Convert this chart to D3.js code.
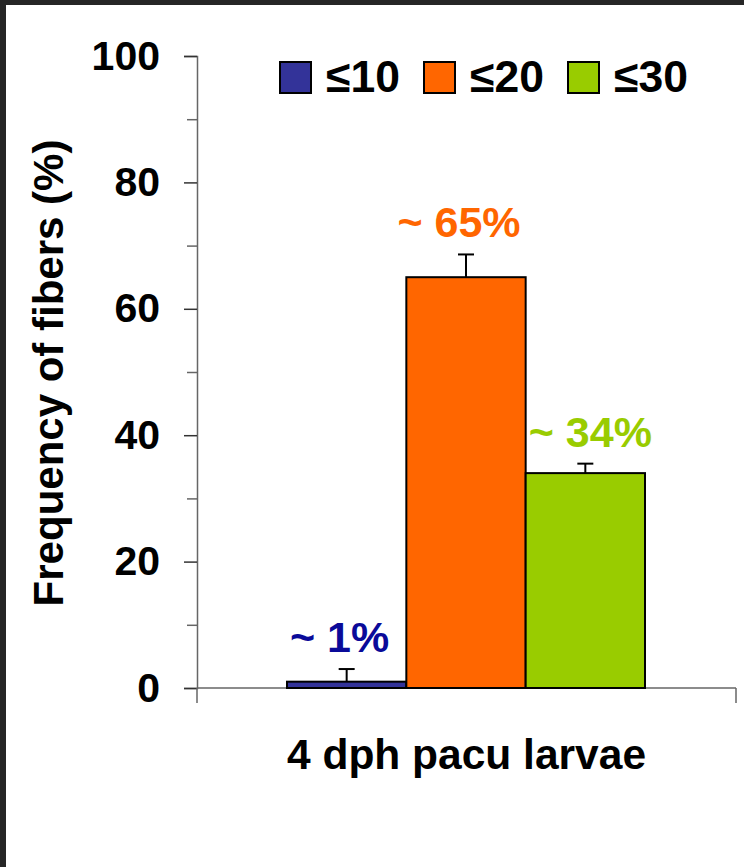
<!DOCTYPE html>
<html>
<head>
<meta charset="utf-8">
<script src="https://cdn.jsdelivr.net/npm/d3@7"></script>
<style>
  html, body { margin: 0; padding: 0; background: #262626; }
  svg { display: block; }
  text { font-family: "Liberation Sans", Arial, sans-serif; font-weight: bold; }
</style>
</head>
<body>
<script>
// Fiber diameter classes (µm) and their frequency in 4 dph pacu larvae
const groups = ["4 dph pacu larvae"];
const classes = ["≤10", "≤20", "≤30"];
const frequency = [1, 65, 34];        // mean frequency (%)
const errors = [2, 3.6, 1.5];          // standard deviation (%)
const valueLabels = ["~ 1%", "~ 65%", "~ 34%"];
const majorTicks = [0, 20, 40, 60, 80, 100];
const minorTicks = [10, 30, 50, 70, 90];

const fillColors = ["#333399", "#FF6600", "#99CC00"];
const labelColors = ["#0A0A99", "#FF6600", "#99CC00"];
const labelShift = [-7, -7, 5];        // horizontal nudge of each value label

const W = 744, H = 867;
const svg = d3.select("body").append("svg").attr("width", W).attr("height", H);

// white panel inside the dark frame
svg.append("rect").attr("x", 6).attr("y", 5).attr("width", W - 6).attr("height", H - 5).attr("fill", "#ffffff");

const y = d3.scaleLinear().domain([0, 100]).range([688, 56]);
const x = d3.scaleBand().domain(groups).range([197, 736]);
const xs = d3.scaleBand().domain(classes).range([287, 645]);

// y axis: major ticks with labels, minor ticks without
const yAxis = svg.append("g").attr("transform", "translate(197,0)")
  .call(d3.axisLeft(y).tickValues(majorTicks).tickSize(13).tickPadding(24).tickFormat(d3.format("d")));
yAxis.select(".domain").attr("stroke", "#666").attr("stroke-width", 1.5);
yAxis.selectAll(".tick line").attr("stroke", "#333").attr("stroke-width", 1.5);
yAxis.selectAll(".tick text").attr("font-size", 41).attr("fill", "#000")
  .attr("font-family", "Liberation Sans, Arial, sans-serif").attr("font-weight", "bold");

const yMinor = svg.append("g").attr("transform", "translate(197,0)")
  .call(d3.axisLeft(y).tickValues(minorTicks).tickSize(10).tickFormat(""));
yMinor.select(".domain").remove();
yMinor.selectAll(".tick line").attr("stroke", "#666").attr("stroke-width", 1.5);

// x axis: baseline with tick marks at the category boundaries
const xAxis = svg.append("g").attr("transform", "translate(0,688)");
xAxis.append("line").attr("x1", x.range()[0]).attr("x2", x.range()[1])
  .attr("stroke", "#666").attr("stroke-width", 1.5);
xAxis.selectAll("line.b").data(x.range()).join("line").attr("class", "b")
  .attr("x1", d => d).attr("x2", d => d).attr("y1", 0).attr("y2", 15)
  .attr("stroke", "#666").attr("stroke-width", 1.5);
xAxis.selectAll("text").data(groups).join("text")
  .attr("x", d => x(d) + x.bandwidth() / 2).attr("y", 81)
  .attr("text-anchor", "middle").attr("font-size", 42.5).attr("fill", "#000")
  .text(d => d);

// bars
const rows = classes.map((c, i) => ({ c, v: frequency[i], e: errors[i], i }));
svg.selectAll("rect.bar").data(rows).join("rect").attr("class", "bar")
  .attr("x", d => xs(d.c)).attr("width", xs.bandwidth())
  .attr("y", d => y(d.v)).attr("height", d => y(0) - y(d.v))
  .attr("fill", d => fillColors[d.i]).attr("stroke", "#000").attr("stroke-width", 2);

// error bars (upper half)
const eb = svg.selectAll("g.err").data(rows).join("g").attr("class", "err")
  .attr("stroke", "#000").attr("stroke-width", 2);
eb.append("line")
  .attr("x1", d => xs(d.c) + xs.bandwidth() / 2).attr("x2", d => xs(d.c) + xs.bandwidth() / 2)
  .attr("y1", d => y(d.v)).attr("y2", d => y(d.v + d.e));
eb.append("line")
  .attr("x1", d => xs(d.c) + xs.bandwidth() / 2 - 8).attr("x2", d => xs(d.c) + xs.bandwidth() / 2 + 8)
  .attr("y1", d => y(d.v + d.e)).attr("y2", d => y(d.v + d.e));

// value labels above the error bars
svg.selectAll("text.val").data(rows).join("text").attr("class", "val")
  .attr("x", d => xs(d.c) + xs.bandwidth() / 2 + labelShift[d.i])
  .attr("y", d => y(d.v + d.e) - 17)
  .attr("text-anchor", "middle").attr("font-size", 43)
  .attr("fill", d => labelColors[d.i])
  .text((d, i) => valueLabels[i]);

// y axis title
svg.append("text")
  .attr("transform", "translate(63,373) rotate(-90)")
  .attr("text-anchor", "middle").attr("font-size", 42).attr("fill", "#000")
  .text("Frequency of fibers (%)");

// legend
const legend = svg.selectAll("g.leg").data(classes).join("g").attr("class", "leg")
  .attr("transform", (d, i) => `translate(${280 + i * 144},62)`);
legend.append("rect").attr("width", 31).attr("height", 31)
  .attr("fill", (d, i) => fillColors[i]).attr("stroke", "#000").attr("stroke-width", 2);
legend.append("text").attr("x", 46).attr("y", 30).attr("font-size", 44.5).attr("fill", "#000")
  .text(d => d);
</script>
</body>
</html>
